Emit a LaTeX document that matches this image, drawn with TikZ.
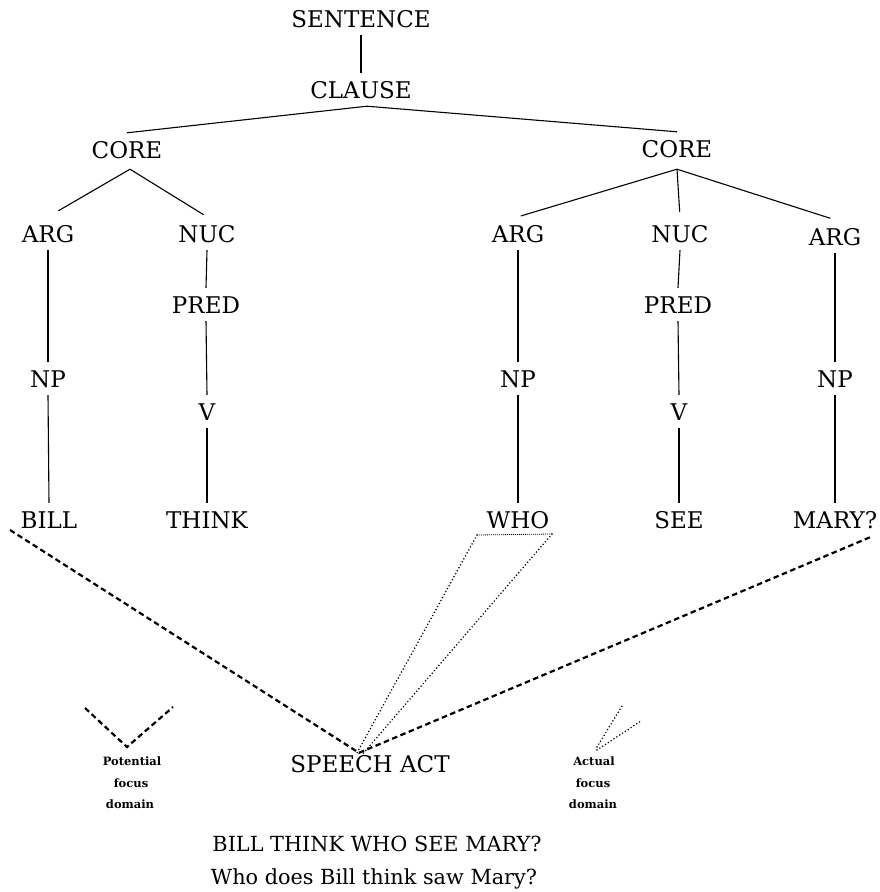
\documentclass[tikz,border=0pt]{standalone}
\usepackage{fontspec}
\usepackage{graphicx}
\setmainfont{DejaVu Serif}
\begin{document}
\begin{tikzpicture}[x=1pt,y=-1pt,
  lbl/.style={font=\fontsize{23}{23}\selectfont, anchor=base, inner xsep=0pt,
              inner ysep=8pt, text height=17pt, text depth=0pt},
  branch/.style={line width=1.1pt, black},
  fdash/.style={line width=2.2pt, dash pattern=on 5.5pt off 3.5pt},
  fdot/.style={line width=1.7pt, line cap=round, dash pattern=on 0pt off 3.4pt},
  fine/.style={line width=0.8pt, dash pattern=on 1pt off 1pt},
  legend/.style={font=\fontsize{11.5}{11.5}\selectfont\bfseries, anchor=base, inner sep=0pt},
  bottomline/.style={anchor=base, inner sep=0pt}]
\fill[white] (0,0) rectangle (880,892);
\path[use as bounding box] (0,0) rectangle (880,892);

% upper levels
\node[lbl] (sent)   at (361,27)  {SENTENCE};
\node[lbl] (clause) at (361,98)  {CLAUSE};
\node[lbl] (coreL)  at (127,158) {CORE};
\node[lbl] (coreR)  at (677,157) {CORE};

% core constituents
\node[lbl] (argL)  at (48,242)  {ARG};
\node[lbl] (nucL)  at (207,242) {NUC};
\node[lbl] (argRa) at (518,242) {ARG};
\node[lbl] (nucR)  at (680,242) {NUC};
\node[lbl] (argRb) at (835,245) {ARG};

\node[lbl] (predL) at (206,313) {PRED};
\node[lbl] (predR) at (678,313) {PRED};

\node[lbl] (npL)  at (48,387)  {NP};
\node[lbl] (npRa) at (518,387) {NP};
\node[lbl] (npRb) at (835,387) {NP};
\node[lbl] (vL)   at (207,420) {V};
\node[lbl] (vR)   at (679,420) {V};

% words
\node[lbl] (bill)  at (49,528)  {BILL};
\node[lbl] (think) at (207,528) {THINK};
\node[lbl] (who)   at (518,528) {WHO};
\node[lbl] (see)   at (679,528) {SEE};
\node[lbl] (mary)  at (835,528) {MARY?};

\node[lbl] (speech) at (370,772) {SPEECH ACT};

% tree branches
\draw[branch] (sent.south) -- (clause.north);
\coordinate (clapex) at ([xshift=6pt]clause.south);
\draw[branch] (coreL.north) -- (clapex) -- (coreR.north);

\coordinate (coreLa) at ([xshift=3pt,yshift=-3pt]coreL.south);
\draw[branch, shorten >=12pt] (coreLa) -- (argL.north);
\draw[branch, shorten >=4pt] (coreLa) -- (nucL.north);
\coordinate (coreRa) at ([yshift=-4pt]coreR.south);
\draw[branch, shorten >=3pt] (coreRa) -- (argRa.north);
\draw[branch, shorten >=5pt] (coreRa) -- (nucR.north);
\draw[branch, shorten >=5pt] (coreRa) -- (argRb.north);

\draw[branch] (argL.south) -- (npL.north);
\draw[branch] (npL.south) -- (bill.north);
\draw[branch] (nucL.south) -- (predL.north);
\draw[branch] (predL.south) -- (vL.north);
\draw[branch] (vL.south) -- (think.north);

\draw[branch] (argRa.south) -- (npRa.north);
\draw[branch] (npRa.south) -- (who.north);
\draw[branch] (nucR.south) -- (predR.north);
\draw[branch] (predR.south) -- (vR.north);
\draw[branch] (vR.south) -- (see.north);
\draw[branch] (argRb.south) -- (npRb.north);
\draw[branch] (npRb.south) -- (mary.north);

% focus domains
\coordinate (sapex) at ([xshift=-11pt,yshift=-6pt]speech.north);
\coordinate (billx) at (10,530);
\coordinate (maryx) at (873,536);
\draw[fdash] (billx) -- (sapex) -- (maryx);

\coordinate (whoL) at (477,535);
\coordinate (whoR) at (552,534);
\draw[fine] (whoL) -- (whoR);
\draw[fdot] (whoL) -- ([xshift=-2pt]sapex);
\draw[fdot] (whoR) -- ([xshift=3pt,yshift=-2pt]sapex);

% legend
\coordinate (pv) at (127,747);
\draw[fdash] (85,708) -- (pv) -- (173,707);
\node[legend] (pot1) at (132,765) {Potential};
\node[legend] (pot2) at (131,787) {focus};
\node[legend] (pot3) at (130,808) {domain};

\coordinate (av) at (597,747);
\draw[fdot] (av) -- (622,706);
\draw[fdot] ([yshift=-3pt]av) -- (641,721);
\node[legend] (act1) at (594,765) {Actual};
\node[legend] (act2) at (593,787) {focus};
\node[legend] (act3) at (593,808) {domain};

% example sentence
\node[bottomline] (ex1) at (377,851) {\resizebox{329pt}{!}{BILL THINK WHO SEE MARY?}};
\node[bottomline] (ex2) at (374,884) {\resizebox{326pt}{!}{Who does Bill think saw Mary?}};
\end{tikzpicture}
\end{document}
